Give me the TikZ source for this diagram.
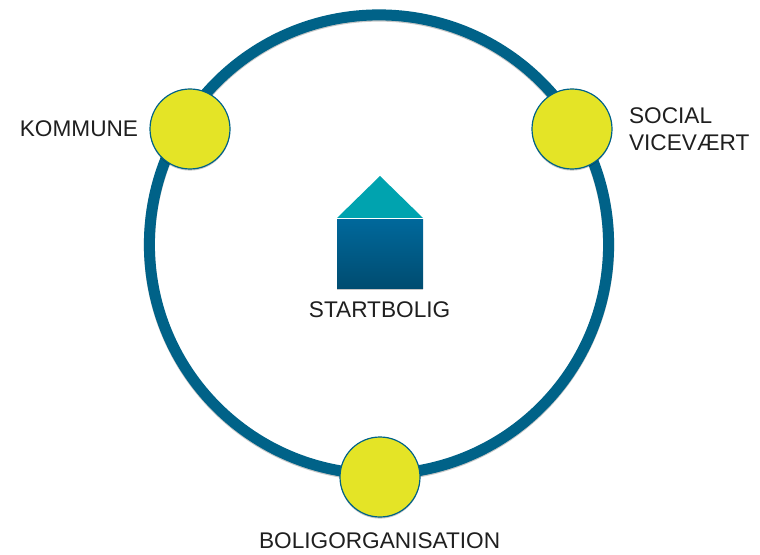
\documentclass[tikz,border=0pt]{standalone}
\usepackage{fontspec}
\setmainfont{Liberation Sans}
\usepackage{tikz}
\usetikzlibrary{shapes}
\usetikzlibrary{shadows}
\usetikzlibrary{positioning}
\definecolor{ringblue}{RGB}{0,98,136}
\definecolor{roofteal}{RGB}{0,163,175}
\definecolor{walltop}{RGB}{0,104,155}
\definecolor{wallbottom}{RGB}{0,76,112}
\definecolor{discyellow}{RGB}{228,228,38}
\tikzset{
  softshadow/.style={drop shadow={shadow xshift=0cm, shadow yshift=-0.04cm, fill=black, opacity=0.22}},
  actor/.style={draw=ringblue, circle, fill=discyellow, minimum size=2cm, inner sep=0pt, line width=0.85pt, softshadow},
  caption/.style={font=\fontsize{16.1}{19.3}\selectfont, text=black!88, inner sep=0pt, align=left}
}

\begin{document}
\begin{tikzpicture}
\useasboundingbox (0,0) rectangle (19,13.85);
\node at (9.475,7.7375) [draw=ringblue, name=Ring, circle, minimum size=11.48cm, inner sep=0pt, line width=0.275cm, preaction={draw=black!22, transform canvas={yshift=-0.03cm}}]{};
\node at (4.75,10.625) [actor, name=Kommune]{};
\node at (14.3,10.625) [actor, name=Social]{};
\node at (9.5,1.925) [actor, name=Organisation]{};
\node at (1.975,10.625) [caption, name=KommuneText]{KOMMUNE};
\node at (15.72,10.63) [caption, anchor=west, name=SocialText]{SOCIAL\\VICEVÆRT};
\node at (9.49,6.1) [caption, name=BoligText]{STARTBOLIG};
\node at (9.49,0.33) [caption, name=OrganisationText]{BOLIGORGANISATION};
\fill[roofteal] (8.425,8.4) -- (9.5,9.45) -- (10.575,8.4) -- cycle;
\shade[top color=walltop, bottom color=wallbottom, softshadow] (8.425,6.63) rectangle (10.575,8.36);
\end{tikzpicture}
\end{document}
